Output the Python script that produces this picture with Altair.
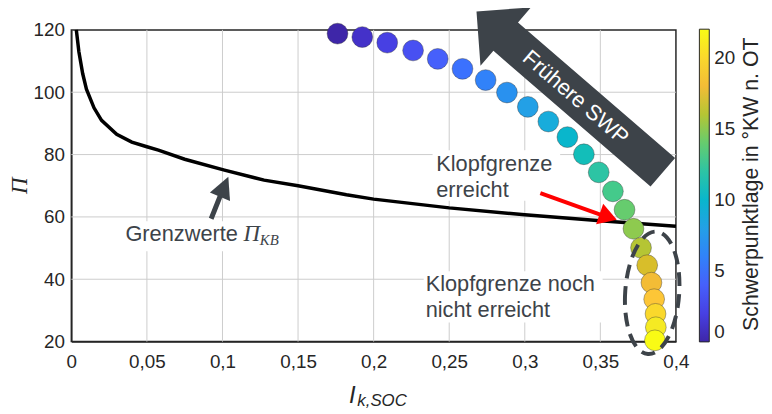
import altair as alt
import pandas as pd

# ---------------- data ----------------
ik_soc = [0.1761, 0.1925, 0.2090, 0.2261, 0.2424, 0.2588, 0.2741, 0.2882, 0.3020, 0.3156,
          0.3282, 0.3391, 0.3489, 0.3583, 0.3660, 0.3719, 0.3769, 0.3810, 0.3838, 0.3856,
          0.3865, 0.3867, 0.3861]
pi_vals = [118.8, 117.7, 115.9, 113.4, 110.7, 107.5, 103.9, 99.9, 95.3, 90.6,
           85.6, 80.1, 74.3, 68.2, 62.3, 56.2, 50.1, 44.5, 38.9, 33.6,
           28.9, 24.6, 20.4]
swp = [0, 1, 2, 3, 4, 5, 6, 7, 8, 9, 10, 11, 12, 13, 14, 15, 16, 17, 18, 19, 20, 21, 22]

curve_x = [0.0033, 0.005, 0.0075, 0.01, 0.015, 0.02, 0.03, 0.04, 0.05, 0.0576, 0.075,
           0.1013, 0.1275, 0.15, 0.182, 0.2, 0.25, 0.3, 0.35, 0.4]
curve_y = [120, 113, 106, 101, 95, 91, 86.5, 84, 82.5, 81.4, 78.5,
           75, 71.8, 70, 67.1, 65.7, 62.9, 60.7, 58.8, 57]

x_ticks = [0, 0.05, 0.1, 0.15, 0.2, 0.25, 0.3, 0.35, 0.4]
y_ticks = [20, 40, 60, 80, 100, 120]
cbar_ticks = [0, 5, 10, 15, 20]

# MATLAB parula colormap stops
parula = ["#3e26a8", "#4432cb", "#4741e5", "#4852f4", "#4563fd", "#3875fe", "#2e87f7",
          "#2796eb", "#20a5e3", "#12b1d6", "#02bac3", "#24c1ae", "#37c897", "#57cc7a",
          "#81cc59", "#abc739", "#d1bf27", "#f0ba36", "#fec338", "#fad62d", "#f5e924",
          "#f9fb15"]

# annotation anchors (data coordinates)
box_x = [0.2390, 0.2331, 0.0340]
box_x2 = [0.3234, 0.3515, 0.1427]
box_y = [81.4, 42.6, 58.6]
box_y2 = [65.2, 26.1, 49.0]

SANS = "Liberation Sans"
SERIF = "Liberation Serif"
DARK = "#3d4349"
AX = "#262626"
GRID = "#cccccc"
W, H = 611, 315

pts = pd.DataFrame({"ik": ik_soc, "pi": pi_vals, "swp": swp})
curve = pd.DataFrame({"ik": curve_x, "pi": curve_y})
boxes = pd.DataFrame({"bx": box_x, "bx2": box_x2, "by": box_y, "by2": box_y2})

xscale = alt.Scale(domain=[0, 0.4], nice=False, zero=False)
yscale = alt.Scale(domain=[20, 120], nice=False, zero=False)

xaxis = alt.Axis(values=x_ticks, title=None, grid=False, ticks=False, labelPadding=11,
                 labelExpr="replace(format(datum.value, '.2~f'), '.', ',')",
                 labelFontSize=19, labelFont=SANS, labelColor=AX, labelFlush=False,
                 labelOverlap=False, domainColor=AX, domainWidth=1.5)
yaxis = alt.Axis(values=y_ticks, title="Π", grid=False, ticks=False, labelPadding=7,
                 labelFontSize=19, labelFont=SANS, labelColor=AX, labelFlush=False,
                 labelOverlap=False, domainColor=AX, domainWidth=1.5,
                 titleFont=SERIF, titleFontStyle="italic", titleFontWeight="normal",
                 titleFontSize=23, titleColor=AX, titleAngle=270, titleAlign="center",
                 titleBaseline="middle", titleX=-52, titleY=157)


def X(f):
    return alt.X(f"{f}:Q", scale=xscale, axis=xaxis)


def Y(f):
    return alt.Y(f"{f}:Q", scale=yscale, axis=yaxis)


def one(**cols):
    return pd.DataFrame({k: [v] for k, v in cols.items()})


# grid lines (one small layer per grid line)
grid_layers = []
for i, v in enumerate(x_ticks[1:-1]):
    f = f"gx{i}"
    grid_layers.append(alt.Chart(one(**{f: v})).mark_rule(color=GRID, strokeWidth=1).encode(
        x=X(f), y=alt.value(0), y2=alt.value(H)))
for i, v in enumerate(y_ticks[1:-1]):
    f = f"gy{i}"
    grid_layers.append(alt.Chart(one(**{f: v})).mark_rule(color=GRID, strokeWidth=1).encode(
        y=Y(f), x=alt.value(0), x2=alt.value(W)))

# white text boxes
box_layer = alt.Chart(boxes).mark_rect(color="white").encode(
    x=X("bx"), x2=alt.X2("bx2"), y=Y("by"), y2=alt.Y2("by2"))

curve_layer = alt.Chart(curve).mark_line(color="black", strokeWidth=3.5).encode(
    x=X("ik"), y=Y("pi"), order="ik:Q")

# red arrow
red_line = alt.Chart(one(rx=0.3103, ry=67.6, rx2=0.3509, ry2=60.6)).mark_rule(
    color="#ff0000", strokeWidth=4).encode(
    x=X("rx"), y=Y("ry"), x2=alt.X2("rx2"), y2=alt.Y2("ry2"))
red_head = alt.Chart(one(hx=0.3552, hy=60.0)).mark_point(
    shape="M1,0 L-1,-1.2 L-1,1.2 Z", filled=True, color="#ff0000", opacity=1,
    size=335, angle=19).encode(x=X("hx"), y=Y("hy"))

# gray arrow to curve
g_line = alt.Chart(one(sx=0.0925, sy=59.4, sx2=0.0989, sy2=67.2)).mark_rule(
    color=DARK, strokeWidth=5).encode(
    x=X("sx"), y=Y("sy"), x2=alt.X2("sx2"), y2=alt.Y2("sy2"))
g_head = alt.Chart(one(ghx=0.1011, ghy=69.7)).mark_point(
    shape="M1,0 L-1,-1 L-1,1 Z", filled=True, color=DARK, opacity=1,
    size=484, angle=292.6).encode(x=X("ghx"), y=Y("ghy"))

# big arrow "Frühere SWP"
big_path = ("M-1,0 L-0.688,-0.312 L-0.688,-0.152 L0.99,-0.152 L0.99,0.152 "
            "L-0.688,0.152 L-0.688,0.312 Z")
big_arrow = alt.Chart(one(ax=0.33, ay=100.0)).mark_point(
    shape=big_path, filled=True, color=DARK, opacity=1, size=62500, angle=40.8,
    strokeWidth=0).encode(x=X("ax"), y=Y("ay"))
big_text = alt.Chart(one(tx=0.3337, ty=98.3, t="Frühere SWP")).mark_text(
    font=SANS, fontSize=22, color="white", angle=40.8, align="center",
    baseline="middle").encode(x=X("tx"), y=Y("ty"), text="t:N")

# scatter points
points = alt.Chart(pts).mark_circle(size=441, opacity=1, stroke="#3a3a3a",
                                    strokeWidth=0.6, strokeOpacity=0.7).encode(
    x=X("ik"), y=Y("pi"),
    order="swp:Q",
    color=alt.Color("swp:Q", scale=alt.Scale(domain=[0, 22], range=parula, interpolate="rgb"),
                    legend=alt.Legend(orient="none", legendX=634.7, legendY=-0.7,
                                      direction="vertical", gradientLength=316,
                                      gradientThickness=10, title=None, values=cbar_ticks,
                                      labelFontSize=19, labelFont=SANS, labelColor=AX,
                                      labelOffset=5, labelBaseline="middle",
                                      gradientStrokeColor=AX, gradientStrokeWidth=1,
                                      padding=0)))

# dashed ellipse
ell_path = "M-0.44,0 A0.44,1 0 1,0 0.44,0 A0.44,1 0 1,0 -0.44,0 Z"
ellipse = alt.Chart(one(ex=0.3843, ey=35.65)).mark_point(
    shape=ell_path, filled=False, color=DARK, opacity=1, size=15376, angle=4,
    strokeWidth=4, strokeDash=[14, 8]).encode(x=X("ex"), y=Y("ey"))

# texts
t1 = alt.Chart(one(tx=0.2414, ty=74.8, t="Klopfgrenze\nerreicht")).mark_text(
    font=SANS, fontSize=22, color=DARK, align="left", baseline="alphabetic",
    lineBreak="\n", lineHeight=27).encode(x=X("tx"), y=Y("ty"), text="t:N")
t2 = alt.Chart(one(tx=0.2344, ty=36.2, t="Klopfgrenze noch\nnicht erreicht")).mark_text(
    font=SANS, fontSize=22, color=DARK, align="left", baseline="alphabetic",
    lineBreak="\n", lineHeight=26).encode(x=X("tx"), y=Y("ty"), text="t:N")
t3 = alt.Chart(one(tx=0.0358, ty=52.25, t="Grenzwerte")).mark_text(
    font=SANS, fontSize=22, color=DARK, align="left", baseline="alphabetic").encode(
    x=X("tx"), y=Y("ty"), text="t:N")
t3b = alt.Chart(one(tx=0.1139, ty=52.25, t="Π")).mark_text(
    font=SERIF, fontSize=23, fontStyle="italic", color=DARK, align="left",
    baseline="alphabetic").encode(x=X("tx"), y=Y("ty"), text="t:N")
t3c = alt.Chart(one(tx=0.1247, ty=50.9, t="KB")).mark_text(
    font=SERIF, fontSize=15, fontStyle="italic", color=DARK, align="left",
    baseline="alphabetic").encode(x=X("tx"), y=Y("ty"), text="t:N")

# x-axis title with subscript, colorbar title
xt1 = alt.Chart(one(t="I")).mark_text(
    font=SANS, fontSize=24, fontStyle="italic", color=AX, align="center",
    baseline="alphabetic").encode(text="t:N", x=alt.value(284), y=alt.value(377))
xt2 = alt.Chart(one(t="k,SOC")).mark_text(
    font=SANS, fontSize=17, fontStyle="italic", color=AX, align="left",
    baseline="alphabetic").encode(text="t:N", x=alt.value(289), y=alt.value(380))
ct = alt.Chart(one(t="Schwerpunktlage in °KW n. OT")).mark_text(
    font=SANS, fontSize=21.5, color=AX, align="center", baseline="alphabetic",
    angle=270).encode(text="t:N", x=alt.value(694), y=alt.value(156))

chart = alt.layer(
    *grid_layers,
    box_layer, curve_layer, red_line, red_head, g_line, g_head, big_arrow, big_text,
    points, ellipse, t1, t2, t3, t3b, t3c, xt1, xt2, ct
).properties(
    width=W, height=H,
    autosize=alt.AutoSizeParams(type="none"),
    padding={"left": 64, "top": 20, "right": 89, "bottom": 66},
).configure_view(stroke=AX, strokeWidth=1.5)

chart.save("out.html", embed_options={"renderer": "svg", "actions": False})
